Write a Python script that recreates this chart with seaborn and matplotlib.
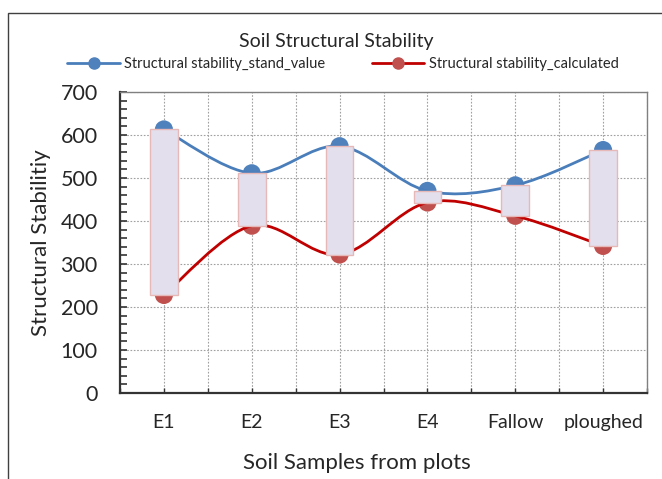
import numpy as np
import pandas as pd
import matplotlib
matplotlib.use("Agg")
import matplotlib.pyplot as plt
from matplotlib.path import Path
from matplotlib.patches import PathPatch, Rectangle
from matplotlib.lines import Line2D
from matplotlib.ticker import MultipleLocator
import seaborn as sns

categories = ["E1", "E2", "E3", "E4", "Fallow", "ploughed"]
stand_value = [613, 511, 574, 470, 483, 565]
calculated = [228, 389, 322, 443, 412, 342]

sns.set_theme(style="white")
plt.rcParams["font.family"] = ["Lato", "DejaVu Sans"]

BLUE_LINE = "#4A7EBB"
BLUE_MK = "#4F81BD"
RED_LINE = "#C00000"
RED_MK = "#C0504D"

df = pd.DataFrame({"cat": categories, "x": np.arange(len(categories)),
                   "stand": stand_value, "calc": calculated})

fig = plt.figure(figsize=(6.62, 4.79), dpi=100)
ax = fig.add_axes([120/662, 1-393/479, 527/662, 301/479])

def smooth_path(xs, ys):
    pts = np.column_stack([xs, ys]).astype(float)
    verts = [pts[0]]
    codes = [Path.MOVETO]
    n = len(pts)
    for i in range(n - 1):
        p0 = pts[i - 1] if i > 0 else pts[i]
        p1 = pts[i]
        p2 = pts[i + 1]
        p3 = pts[i + 2] if i + 2 < n else pts[i + 1]
        c1 = p1 + (p2 - p0) / 6.0
        c2 = p2 - (p3 - p1) / 6.0
        verts += [c1, c2, p2]
        codes += [Path.CURVE4] * 3
    return Path(verts, codes)

# markers
sns.scatterplot(data=df, x="x", y="stand", ax=ax, color=BLUE_MK, s=170,
                edgecolor="none", zorder=3, legend=False)
sns.scatterplot(data=df, x="x", y="calc", ax=ax, color=RED_MK, s=170,
                edgecolor="none", zorder=3, legend=False)

# smooth lines
ax.add_patch(PathPatch(smooth_path(df["x"], df["stand"]), fill=False,
                       edgecolor=BLUE_LINE, lw=2.0, zorder=4))
ax.add_patch(PathPatch(smooth_path(df["x"], df["calc"]), fill=False,
                       edgecolor=RED_LINE, lw=2.0, zorder=4))

# up/down bars
ax.bar(df["x"], df["stand"] - df["calc"], bottom=df["calc"], width=0.315,
       color="#E4DFEC", edgecolor="#E6B9B8", linewidth=1.0, zorder=5)

ax.set_xlim(-0.5, len(categories) - 0.5)
ax.set_ylim(0, 700)
ax.set_xticks(df["x"])
ax.set_xticklabels(categories)
ax.xaxis.set_minor_locator(MultipleLocator(0.5))
ax.yaxis.set_major_locator(MultipleLocator(100))
ax.yaxis.set_minor_locator(MultipleLocator(20))
ax.tick_params(axis="y", which="both", direction="in", length=5, width=1.2,
               color="#333333", labelsize=15.5, pad=16, left=True)
ax.tick_params(axis="x", which="both", direction="in", length=3.5, width=1.0,
               color="#333333", bottom=True, pad=15)
ax.tick_params(axis="x", which="major", labelsize=14)

ax.grid(True, which="major", axis="y", color="#A0A0A0", ls=(0, (1.5, 1.5)), lw=0.8)
ax.grid(True, which="both", axis="x", color="#A0A0A0", ls=(0, (1.5, 1.5)), lw=0.8)
ax.set_axisbelow(True)

for s in ["left", "bottom"]:
    ax.spines[s].set_color("#333333")
    ax.spines[s].set_linewidth(1.6)
for s in ["top", "right"]:
    ax.spines[s].set_color("#808080")
    ax.spines[s].set_linewidth(1.0)

ax.set_xlabel("Soil Samples from plots", fontsize=16)
ax.xaxis.label.set_va("center")
ax.xaxis.set_label_coords((357 - 120) / 527, (393 - 463) / 301)
ax.set_ylabel("Structural Stabilitiy", fontsize=16)
ax.yaxis.label.set_va("center")
ax.yaxis.set_label_coords((41 - 120) / 527, 0.5)

fig.text(336/662, 1-41/479, "Soil Structural Stability", ha="center",
         va="center", fontsize=14)

handles = [
    Line2D([0], [0], color=BLUE_LINE, lw=2, marker="o", markersize=8,
           markerfacecolor=BLUE_MK, markeredgecolor=BLUE_MK),
    Line2D([0], [0], color=RED_LINE, lw=2, marker="o", markersize=8,
           markerfacecolor=RED_MK, markeredgecolor=RED_MK),
]
fig.legend(handles, ["Structural stability_stand_value",
                     "Structural stability_calculated"],
           loc="center", bbox_to_anchor=(343/662, 1-64/479), ncol=2,
           frameon=False, fontsize=10.5, handlelength=3.6, columnspacing=3.2,
           handletextpad=0.3)

# outer chart border
fig.add_artist(Rectangle((8/662, -0.1), 1.2, 1 - 13/479 + 0.1,
                         transform=fig.transFigure, fill=False,
                         edgecolor="#404040", lw=1.0))

fig.savefig("out.png", dpi=100)
